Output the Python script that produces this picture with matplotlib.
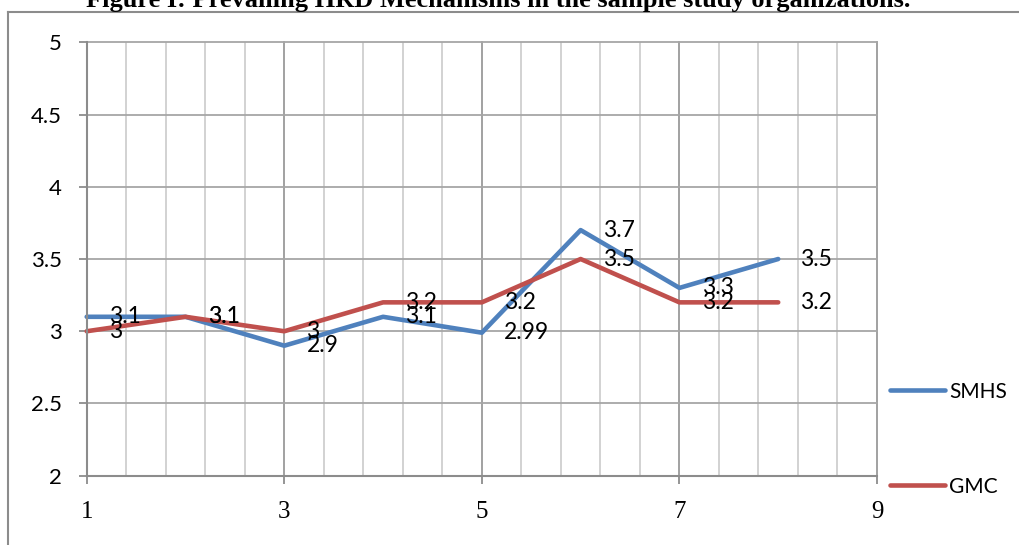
import matplotlib
matplotlib.use("Agg")
import matplotlib.pyplot as plt
from matplotlib.lines import Line2D

# values per study item (1..8)
items = [1, 2, 3, 4, 5, 6, 7, 8]
smhs = [3.1, 3.1, 2.9, 3.1, 2.99, 3.7, 3.3, 3.5]
gmc = [3, 3.1, 3, 3.2, 3.2, 3.5, 3.2, 3.2]
series_names = ["SMHS", "GMC"]
series_colors = ["#4F81BD", "#C0504D"]

x_ticks = [1, 3, 5, 7, 9]
x_minor = [1 + 0.4 * k for k in range(21)]
y_ticks = [2, 2.5, 3, 3.5, 4, 4.5, 5]

title = "Figure I: Prevailing HRD Mechanisms in the sample study organizations."

fig = plt.figure(figsize=(10.2, 5.45), dpi=100)
ax = fig.add_axes([0.085, 0.1271, 0.7748, 0.7953])

# outer frame (top and left edges only show)
fig.add_artist(Line2D([8 / 1020, 1.0], [1 - 12 / 545] * 2, color="#8c8c8c", lw=1.5,
                      transform=fig.transFigure))
fig.add_artist(Line2D([8 / 1020] * 2, [0, 1 - 12 / 545], color="#8c8c8c", lw=1.5,
                      transform=fig.transFigure))

fig.text(86 / 1020, 1 - 7 / 545, title, fontfamily="Liberation Serif",
         fontweight="bold", fontsize=19, va="baseline", ha="left")

ax.set_xlim(1, 9)
ax.set_ylim(2, 5)
ax.set_xticks(x_ticks)
ax.set_xticks(x_minor, minor=True)
ax.set_yticks(y_ticks)

ax.grid(which="minor", axis="x", color="#cfcfcf", lw=1.3)
ax.grid(which="major", axis="x", color="#9a9a9a", lw=1.3)
ax.grid(which="major", axis="y", color="#a6a6a6", lw=1.3)
ax.set_axisbelow(True)
for gl in ax.get_xgridlines() + ax.get_ygridlines():
    gl.set_clip_on(False)

for side in ["top", "right"]:
    ax.spines[side].set_visible(False)
for side in ["left", "bottom"]:
    ax.spines[side].set_color("#8c8c8c")
    ax.spines[side].set_linewidth(1.5)

ax.tick_params(which="major", direction="out", length=6, width=1.3, color="#8c8c8c")
ax.tick_params(which="minor", length=0)
ax.tick_params(axis="x", pad=12)
ax.tick_params(axis="y", pad=12)

ax.set_xticklabels([str(t) for t in x_ticks], fontfamily="Liberation Serif", fontsize=18)
ax.set_yticklabels([f"{t:g}" for t in y_ticks], fontfamily="Lato", fontsize=16)

for vals, name, color in zip([smhs, gmc], series_names, series_colors):
    ax.plot(items, vals, color=color, lw=3.3, label=name,
            solid_capstyle="round", solid_joinstyle="round", clip_on=False)
    for x, v in zip(items, vals):
        ax.annotate(f"{v:g}", (x, v), xytext=(16, 0), textcoords="offset points",
                    ha="left", va="center", fontfamily="Lato", fontsize=16.5)

ax.legend(loc="upper left", bbox_to_anchor=(1.006, 0.236), frameon=False,
          prop={"family": "Lato", "size": 15}, handlelength=2.65, handletextpad=0.2,
          labelspacing=3.6, borderaxespad=0.0)

fig.savefig("out.png", dpi=100)
